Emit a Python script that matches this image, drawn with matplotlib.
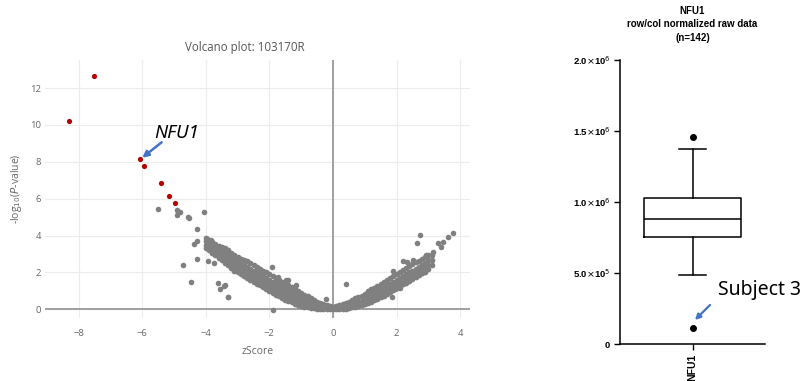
import matplotlib
matplotlib.use('Agg')
import matplotlib.pyplot as plt

# ---- volcano plot data ----
# significant hits (red)
sig_z = [-7.53, -8.30, -6.06, -5.96, -5.41, -5.16, -4.97]
sig_logp = [12.65, 10.23, 8.17, 7.77, 6.87, 6.16, 5.75]

# scattered grey points away from the main band
out_z = [-5.51, -4.92, -4.81, -4.92, -4.57, -4.54, -4.06, -4.29, -4.38, -4.27,
         -4.28, -4.72, -4.47, -3.92, -3.74, -3.61, -3.56, -3.42, -3.29, -1.93,
         -1.88, -0.23, -3.95, -3.85, -1.73, -1.47, -1.42, -1.15, -3.41, -3.31,
         0.40, 2.74, 2.65, 3.63, 3.79, 3.47, 3.31, 3.39, 3.16, 2.93,
         2.53, 2.32, 1.90, 2.11, 1.95, 1.85, 2.20]
out_logp = [5.44, 5.38, 5.29, 5.10, 5.02, 4.97, 5.29, 4.37, 3.54, 3.70,
            2.73, 2.42, 1.46, 2.64, 2.53, 1.41, 1.10, 1.26, 0.65, 2.28,
            -0.02, 0.56, 3.82, 3.78, 1.77, 1.59, 1.59, 1.32, 1.32, 0.68,
            1.37, 4.03, 3.61, 3.94, 4.12, 3.67, 3.58, 3.36, 3.12, 2.94,
            2.67, 2.58, 2.09, 1.14, 1.08, 0.68, 2.64]

# dense band, negative side: zScore columns and the -log10(P) values seen in each
neg_cols_z = [-4.0, -3.9, -3.8, -3.7, -3.6, -3.5, -3.4, -3.3, -3.2, -3.1,
              -3.0, -2.9, -2.8, -2.7, -2.6, -2.5, -2.4, -2.3, -2.2, -2.1,
              -2.0, -1.9, -1.8, -1.7, -1.6, -1.5, -1.4, -1.3, -1.2, -1.1,
              -1.0, -0.9, -0.8, -0.7, -0.6, -0.5, -0.4, -0.3, -0.2, -0.1, 0.0]
neg_cols_logp = [
    [3.3, 3.5, 3.7, 3.85], [3.2, 3.4, 3.6, 3.78], [3.05, 3.25, 3.45, 3.65],
    [2.95, 3.15, 3.35, 3.55], [2.8, 3.0, 3.2, 3.45], [2.65, 2.85, 3.05, 3.25, 3.4],
    [2.5, 2.7, 2.9, 3.1, 3.3], [2.4, 2.6, 2.8, 3.0, 3.2], [2.25, 2.45, 2.65, 2.85, 3.05],
    [2.1, 2.3, 2.5, 2.7, 2.95], [2.0, 2.2, 2.4, 2.6, 2.85], [1.9, 2.1, 2.3, 2.5, 2.75],
    [1.8, 2.0, 2.2, 2.4, 2.7], [1.7, 1.9, 2.1, 2.3, 2.6], [1.6, 1.8, 2.0, 2.2, 2.5],
    [1.5, 1.7, 1.9, 2.1, 2.4], [1.4, 1.6, 1.8, 2.0, 2.3], [1.3, 1.5, 1.7, 1.9, 2.2],
    [1.2, 1.4, 1.6, 1.8, 2.1], [1.1, 1.3, 1.5, 1.7, 2.0], [1.0, 1.2, 1.4, 1.6, 1.9],
    [0.9, 1.1, 1.3, 1.5, 1.8], [0.8, 1.0, 1.2, 1.45, 1.7], [0.7, 0.9, 1.1, 1.35, 1.6],
    [0.6, 0.8, 1.0, 1.25, 1.5], [0.5, 0.7, 0.9, 1.15, 1.4], [0.45, 0.65, 0.85, 1.05, 1.3],
    [0.4, 0.6, 0.8, 1.0, 1.2], [0.3, 0.5, 0.7, 0.9, 1.1], [0.25, 0.45, 0.65, 0.85, 1.0],
    [0.2, 0.4, 0.6, 0.8, 0.9], [0.15, 0.35, 0.55, 0.8], [0.1, 0.3, 0.5, 0.7],
    [0.05, 0.25, 0.45, 0.6], [0.05, 0.2, 0.35, 0.5], [0.0, 0.15, 0.3, 0.4],
    [0.0, 0.15, 0.35], [0.0, 0.15, 0.3], [0.0, 0.12, 0.25], [0.0, 0.1, 0.2],
    [0.0, 0.1, 0.15]]

# dense band, positive side
pos_cols_z = [0.1, 0.2, 0.3, 0.4, 0.5, 0.6, 0.7, 0.8, 0.9, 1.0,
              1.1, 1.2, 1.3, 1.4, 1.5, 1.6, 1.7, 1.8, 1.9, 2.0,
              2.1, 2.2, 2.3, 2.4, 2.5, 2.6, 2.7, 2.8, 2.9, 3.0, 3.1]
pos_cols_logp = [
    [0.0, 0.1, 0.2], [0.0, 0.12, 0.25], [0.02, 0.15, 0.3], [0.03, 0.18, 0.35],
    [0.05, 0.22, 0.4], [0.1, 0.3, 0.5], [0.15, 0.35, 0.6], [0.2, 0.4, 0.65],
    [0.25, 0.45, 0.75], [0.3, 0.55, 0.85], [0.35, 0.6, 0.8, 0.98],
    [0.42, 0.65, 0.85, 1.08], [0.5, 0.72, 0.95, 1.18], [0.58, 0.8, 1.02, 1.28],
    [0.66, 0.88, 1.1, 1.38], [0.75, 0.98, 1.2, 1.48], [0.85, 1.08, 1.3, 1.58],
    [0.95, 1.18, 1.4, 1.7], [1.05, 1.28, 1.5, 1.8], [1.15, 1.38, 1.6, 1.92],
    [1.25, 1.48, 1.7, 2.02], [1.35, 1.58, 1.8, 2.12], [1.45, 1.68, 1.9, 2.24],
    [1.55, 1.78, 2.0, 2.34], [1.65, 1.88, 2.1, 2.44], [1.75, 1.98, 2.2, 2.54],
    [1.85, 2.08, 2.3, 2.64], [1.95, 2.18, 2.4, 2.74], [2.05, 2.28, 2.5, 2.84],
    [2.2, 2.42, 2.65, 2.92], [2.42, 2.68, 2.95]]

# ---- box plot data (NFU1, n=142) ----
box_q1 = 0.751e6
box_median = 0.880e6
box_q3 = 1.026e6
box_whislo = 0.486e6
box_whishi = 1.371e6
box_fliers = [1.455e6, 0.11e6]
box_ticks = [0, 0.5e6, 1.0e6, 1.5e6, 2.0e6]
box_ticklabels = ['0', r'5.0$\times$10$^5$', r'1.0$\times$10$^6$',
                  r'1.5$\times$10$^6$', r'2.0$\times$10$^6$']

band_z = [z for z, ys in zip(neg_cols_z, neg_cols_logp) for _ in ys] + \
         [z for z, ys in zip(pos_cols_z, pos_cols_logp) for _ in ys]
band_logp = [y for ys in neg_cols_logp for y in ys] + [y for ys in pos_cols_logp for y in ys]

W, H = 802, 381
fig = plt.figure(figsize=(W / 100, H / 100), dpi=100)
fig.patch.set_facecolor('white')

# ---------------- volcano ----------------
ax = fig.add_axes([45 / W, 63 / H, 425 / W, 258 / H])
ax.set_xlim(-9.06, 4.31)
ax.set_ylim(-0.47, 13.52)
for s in ax.spines.values():
    s.set_visible(False)
ax.set_xticks([-8, -6, -4, -2, 0, 2, 4])
ax.set_yticks([0, 2, 4, 6, 8, 10, 12])
ax.grid(True, color='#ececec', linewidth=0.8, zorder=0)
ax.set_axisbelow(True)
ax.axhline(0, color='#9a9a9a', linewidth=1.3, zorder=1)
ax.axvline(0, color='#9a9a9a', linewidth=1.3, zorder=1)
ax.tick_params(length=0, colors='#666666', labelsize=6.8, pad=3)
ax.tick_params(axis='x', pad=8)
for lab in ax.get_xticklabels() + ax.get_yticklabels():
    lab.set_family('Open Sans')

ax.scatter(band_z, band_logp, s=17, color='#808080', linewidths=0, zorder=3)
ax.scatter(out_z, out_logp, s=16, color='#808080', linewidths=0, zorder=3)
ax.scatter(sig_z, sig_logp, s=14, color='#b40000', linewidths=0, zorder=4)

ax.set_xlabel('zScore', family='Open Sans', fontsize=7.5, color='#666666', labelpad=6)
ax.set_ylabel('-log$_{10}$($P$-value)', family='Open Sans', fontsize=7.5,
              color='#666666', labelpad=4)
fig.text(245 / W, 1 - 47 / H, 'Volcano plot: 103170R', family='Open Sans',
         fontsize=8.3, color='#555555', ha='center', va='center')

ax.annotate('', xy=(-6.0, 8.22), xytext=(-5.39, 9.06),
            arrowprops=dict(arrowstyle='-|>', color='#4472C4', lw=1.8,
                            mutation_scale=9, shrinkA=0, shrinkB=0), zorder=5)
ax.text(-5.63, 9.29, 'NFU1', family='Noto Sans', style='italic', fontsize=13.4,
        color='black', ha='left', va='baseline', zorder=5)

# ---------------- box plot ----------------
bx = fig.add_axes([620 / W, 37 / H, 145 / W, 284 / H])
stats = [dict(med=box_median, q1=box_q1, q3=box_q3, whislo=box_whislo,
              whishi=box_whishi, fliers=box_fliers, label='NFU1')]
lw = 1.1
bx.bxp(stats, positions=[1], widths=0.667, capwidths=0.182, showfliers=True,
       boxprops=dict(color='black', linewidth=lw),
       medianprops=dict(color='black', linewidth=lw),
       whiskerprops=dict(color='black', linewidth=lw),
       capprops=dict(color='black', linewidth=lw),
       flierprops=dict(marker='o', markerfacecolor='black', markeredgecolor='black',
                       markersize=4))
bx.set_xlim(0.5, 1.5)
bx.set_ylim(0, 2.0e6)
bx.spines['top'].set_visible(False)
bx.spines['right'].set_visible(False)
bx.spines['left'].set_linewidth(1.1)
bx.spines['bottom'].set_linewidth(1.1)
bx.set_yticks(box_ticks)
bx.set_yticklabels(box_ticklabels)
bx.set_xticks([1])
bx.set_xticklabels(['NFU1'], rotation=90)
bx.tick_params(length=4, width=1.0, labelsize=6.8, pad=3)
bx.tick_params(axis='x', labelsize=7.5)
for lab in bx.get_xticklabels() + bx.get_yticklabels():
    lab.set_family('Liberation Sans')
    lab.set_fontweight('bold')
bx.set_title('NFU1\nrow/col normalized raw data\n(n=142)', family='Liberation Sans',
             fontweight='bold', fontsize=7, linespacing=1.4, pad=14)

bx.annotate('', xy=(1.017, 0.169e6), xytext=(1.121, 0.275e6),
            arrowprops=dict(arrowstyle='-|>', color='#4472C4', lw=1.6,
                            mutation_scale=8, shrinkA=0, shrinkB=0))
bx.text(1.176, 0.38e6, 'Subject 3', family='Noto Sans', fontsize=14,
        ha='left', va='center', clip_on=False)

fig.savefig('out.png', dpi=100)
